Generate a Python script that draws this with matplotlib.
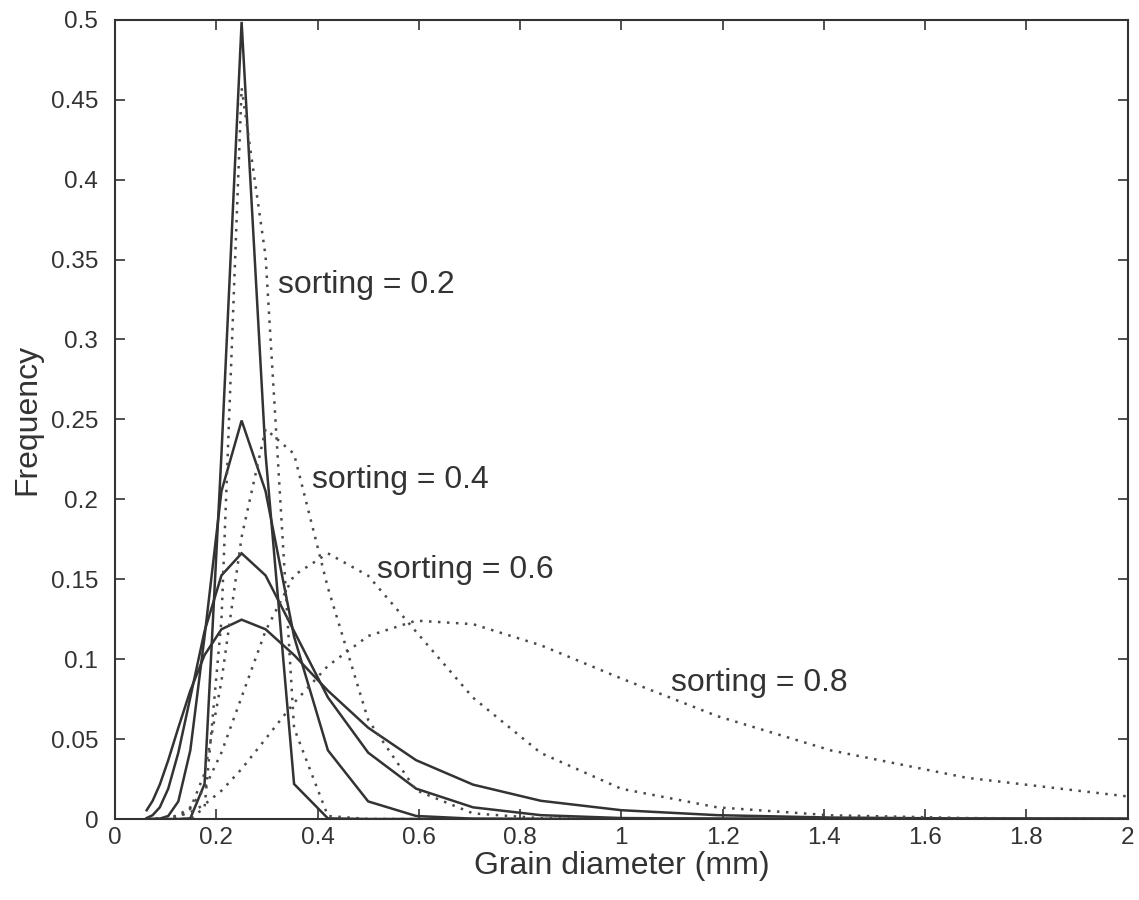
import matplotlib
matplotlib.use("Agg")
import matplotlib.pyplot as plt

# grain sizes (mm), quarter-phi steps from 4 phi down to -1 phi
diameter = [0.0625, 0.0743, 0.0884, 0.1051, 0.125, 0.1487, 0.1768, 0.2102, 0.25,
            0.2973, 0.3536, 0.4204, 0.5, 0.5946, 0.7071, 0.8409, 1.0, 1.1892,
            1.4142, 1.6818, 2.0]

# number frequency (solid)
num_02 = [0, 0, 0, 0, 0, 0.0004, 0.0219, 0.2283, 0.4987, 0.2283, 0.0219, 0.0004,
          0, 0, 0, 0, 0, 0, 0, 0, 0]
num_04 = [0, 0, 0.0002, 0.0019, 0.011, 0.043, 0.1141, 0.2051, 0.2493, 0.2051,
          0.1141, 0.043, 0.011, 0.0019, 0.0002, 0, 0, 0, 0, 0, 0]
num_06 = [0.0006, 0.0024, 0.0073, 0.019, 0.0415, 0.0761, 0.1175, 0.1524, 0.1662,
          0.1524, 0.1175, 0.0761, 0.0415, 0.019, 0.0073, 0.0024, 0.0006, 0.0002,
          0, 0, 0]
num_08 = [0.0055, 0.0114, 0.0215, 0.0368, 0.0571, 0.0803, 0.1026, 0.1187, 0.1247,
          0.1187, 0.1026, 0.0803, 0.0571, 0.0368, 0.0215, 0.0114, 0.0055, 0.0024,
          0.0009, 0.0003, 0.0001]

# mass frequency (dotted)
mass_02 = [0, 0, 0, 0, 0, 0.0001, 0.0071, 0.1245, 0.4574, 0.3522, 0.0569, 0.0019,
           0, 0, 0, 0, 0, 0, 0, 0, 0]
mass_04 = [0, 0, 0, 0.0001, 0.001, 0.0064, 0.0285, 0.0863, 0.1764, 0.244, 0.2284,
           0.1447, 0.062, 0.018, 0.0035, 0.0005, 0, 0, 0, 0, 0]
mass_06 = [0, 0, 0.0002, 0.0007, 0.0024, 0.0073, 0.0191, 0.0416, 0.0763, 0.1177,
           0.1525, 0.1662, 0.1522, 0.1172, 0.0759, 0.0413, 0.0189, 0.0073, 0.0023,
           0.0006, 0.0001]
mass_08 = [0, 0.0001, 0.0002, 0.0007, 0.0018, 0.0042, 0.0091, 0.0177, 0.0313,
           0.0501, 0.0727, 0.0958, 0.1145, 0.1241, 0.1219, 0.1087, 0.0879, 0.0644,
           0.0429, 0.0258, 0.0141]

labels = ["sorting = 0.2", "sorting = 0.4", "sorting = 0.6", "sorting = 0.8"]
label_x = [0.322, 0.389, 0.517, 1.098]
label_y = [0.334, 0.212, 0.156, 0.085]

plt.rcParams['font.family'] = ['Liberation Sans', 'DejaVu Sans']
txt_color = "#333333"

fig = plt.figure(figsize=(11.39, 9.0), dpi=100)
ax = fig.add_axes([0.101, 0.09, 0.889, 0.888])

for ys in [num_02, num_04, num_06, num_08]:
    ax.plot(diameter, ys, color="#333333", lw=1.8, solid_joinstyle="miter")
for ys in [mass_02, mass_04, mass_06, mass_08]:
    ax.plot(diameter, ys, color="#4a4a4a", lw=1.8, linestyle=(0, (1, 2.6)))

for lab, lx, ly in zip(labels, label_x, label_y):
    ax.text(lx, ly, lab, fontsize=23, color=txt_color, ha="left", va="center")

ax.set_xlim(0, 2)
ax.set_ylim(0, 0.5)
ax.set_xticks([0, 0.2, 0.4, 0.6, 0.8, 1, 1.2, 1.4, 1.6, 1.8, 2])
ax.set_xticklabels(["0", "0.2", "0.4", "0.6", "0.8", "1", "1.2", "1.4", "1.6", "1.8", "2"])
ax.set_yticks([0, 0.05, 0.1, 0.15, 0.2, 0.25, 0.3, 0.35, 0.4, 0.45, 0.5])
ax.set_yticklabels(["0", "0.05", "0.1", "0.15", "0.2", "0.25", "0.3", "0.35", "0.4", "0.45", "0.5"])
ax.tick_params(direction="in", length=7, width=1.2, top=True, right=True,
               labelsize=17.5, colors="#333333", labelcolor=txt_color)
ax.tick_params(axis="y", pad=12)
ax.tick_params(axis="x", pad=6)
for sp in ax.spines.values():
    sp.set_linewidth(1.5)
    sp.set_color("#333333")

ax.set_xlabel("Grain diameter (mm)", fontsize=23, color=txt_color, labelpad=1)
ax.set_ylabel("Frequency", fontsize=23, color=txt_color, labelpad=6)

fig.savefig("out.png", dpi=100)
